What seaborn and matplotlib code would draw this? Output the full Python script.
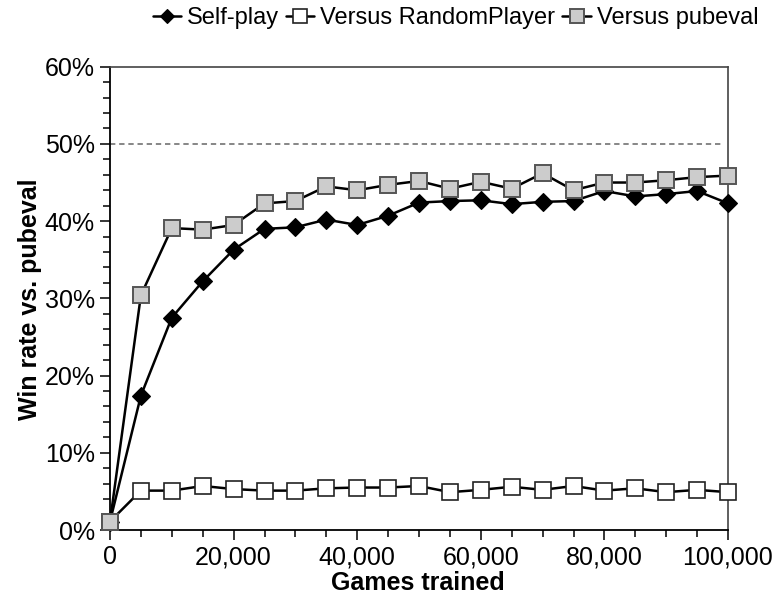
import matplotlib
matplotlib.use("Agg")
import matplotlib.pyplot as plt
from matplotlib.ticker import MultipleLocator, FuncFormatter
import pandas as pd
import seaborn as sns

# Training progress: win rate (%) against pubeval after N games
games = [0, 5000, 10000, 15000, 20000, 25000, 30000, 35000, 40000, 45000, 50000,
         55000, 60000, 65000, 70000, 75000, 80000, 85000, 90000, 95000, 100000]
self_play = [1.1, 17.4, 27.5, 32.2, 36.3, 39.0, 39.2, 40.2, 39.5, 40.7, 42.4,
             42.6, 42.7, 42.2, 42.5, 42.6, 43.9, 43.2, 43.5, 43.9, 42.3]
versus_random = [1.1, 5.1, 5.1, 5.7, 5.3, 5.1, 5.1, 5.4, 5.5, 5.5, 5.7,
                 4.9, 5.2, 5.6, 5.2, 5.7, 5.1, 5.4, 4.9, 5.2, 4.9]
versus_pubeval = [1.1, 30.4, 39.1, 38.9, 39.5, 42.3, 42.6, 44.5, 44.0, 44.7, 45.2,
                  44.2, 45.1, 44.2, 46.2, 44.0, 45.0, 45.0, 45.3, 45.7, 45.9]
series_names = ["Self-play", "Versus RandomPlayer", "Versus pubeval"]
reference_level = 50

df = pd.DataFrame({"games": games,
                   series_names[0]: self_play,
                   series_names[1]: versus_random,
                   series_names[2]: versus_pubeval})

sns.set_style("white")
plt.rcParams["font.family"] = ["Liberation Sans", "DejaVu Sans"]
plt.rcParams["font.size"] = 18
for key in ["text.color", "axes.labelcolor", "xtick.color", "ytick.color"]:
    plt.rcParams[key] = "black"

fig = plt.figure(figsize=(7.78, 6.02), dpi=100)
ax = fig.add_axes([110 / 778, 1 - 530 / 602, 618 / 778, 463.3 / 602])

styles = {
    series_names[0]: dict(marker="D", markersize=9, markerfacecolor="black",
                          markeredgecolor="black", markeredgewidth=0.8),
    series_names[1]: dict(marker="s", markersize=12, markerfacecolor="white",
                          markeredgecolor="#222222", markeredgewidth=1.2),
    series_names[2]: dict(marker="s", markersize=12, markerfacecolor="#cccccc",
                          markeredgecolor="#555555", markeredgewidth=1.4),
}

for i, name in enumerate(series_names):
    sns.lineplot(data=df, x="games", y=name, ax=ax, color="black", linewidth=1.8,
                 label=name, clip_on=False, zorder=3 + i, **styles[name])

ax.axhline(reference_level, xmin=0, xmax=0.99, color="#666666", linewidth=1.1,
           linestyle=(0, (3.5, 2.5)), zorder=2)

ax.set_xlim(0, 100000)
ax.set_ylim(0, 60)
ax.xaxis.set_major_locator(MultipleLocator(20000))
ax.xaxis.set_minor_locator(MultipleLocator(5000))
ax.yaxis.set_major_locator(MultipleLocator(10))
ax.yaxis.set_minor_locator(MultipleLocator(2))
ax.xaxis.set_major_formatter(FuncFormatter(lambda v, p: f"{int(v):,}"))
ax.yaxis.set_major_formatter(FuncFormatter(lambda v, p: f"{int(v)}%"))

ax.tick_params(axis="both", which="both", direction="out", color="black",
               width=1.1, labelsize=18)
ax.tick_params(axis="both", which="major", length=7, pad=4)
ax.tick_params(axis="both", which="minor", length=5)
ax.tick_params(axis="x", which="both", bottom=True)
ax.tick_params(axis="y", which="both", left=True)

for side in ["left", "bottom"]:
    ax.spines[side].set_color("black")
    ax.spines[side].set_linewidth(1.3)
for side in ["top", "right"]:
    ax.spines[side].set_color("#444444")
    ax.spines[side].set_linewidth(1.2)

ax.set_xlabel("Games trained", fontweight="bold", fontsize=18)
ax.set_ylabel("Win rate vs. pubeval", fontweight="bold", fontsize=18)
ax.xaxis.set_label_coords(0.498, -0.088)
ax.yaxis.set_label_coords(-0.11, 0.497)

handles, labels = ax.get_legend_handles_labels()
ax.legend_.remove()
fig.legend(handles, labels, loc="center", bbox_to_anchor=(0.5855, 1 - 18 / 602),
           ncol=3, frameon=False, fontsize=17, handlelength=1.2,
           handletextpad=0.25, columnspacing=0.3, markerscale=0.8,
           borderpad=0, borderaxespad=0)

fig.savefig("out.png", dpi=100)
